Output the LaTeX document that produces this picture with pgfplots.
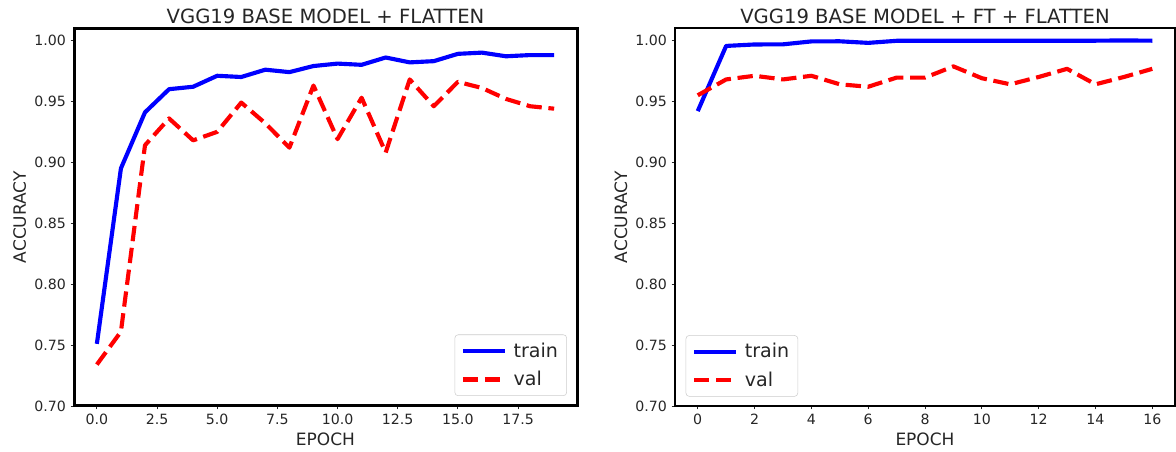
\documentclass[border=0pt]{standalone}
\usepackage{pgfplots}
\pgfplotsset{compat=1.18}
\usepackage{fontspec}
\setmainfont{DejaVu Sans}
\definecolor{txt}{RGB}{38,38,38}
\begin{document}
\begin{tikzpicture}
\path[use as bounding box] (0,0) rectangle (882pt,339pt);
\pgfplotsset{
  common/.style={
    scale only axis, height=283.3pt,
    ymin=0.70, ymax=1.01,
    ytick={0.70,0.75,0.80,0.85,0.90,0.95,1.00},
    yticklabel style={/pgf/number format/.cd, fixed, fixed zerofill, precision=2},
    /pgf/number format/assume math mode=true,
    tick label style={font=\fontsize{10.6}{12}\selectfont, text=txt},
    tick align=outside, xtick pos=left, ytick pos=left,
    major tick length=2.6pt,
    every tick/.style={txt, line width=0.6pt},
    xlabel=EPOCH, ylabel=ACCURACY,
    label style={font=\fontsize{12.75}{14}\selectfont, text=txt},
    xlabel style={at={([yshift=-30pt]axis description cs:0.5,0)}, anchor=base},
    ylabel style={at={([xshift=-36pt]axis description cs:0,0.5)}, anchor=base, rotate=0},
    title style={font=\fontsize{14.7}{16}\selectfont, text=txt, at={([yshift=-2.5pt]axis description cs:0.5,1)}, anchor=base, yshift=0pt},
    legend style={font=\fontsize{14.3}{17}\selectfont, text=txt, draw=black!20, rounded corners=2.5pt, fill=white, fill opacity=0.8, text opacity=1, inner xsep=4.5pt, inner ysep=4pt, row sep=5pt, column sep=3pt},
    legend cell align=left,
    legend image code/.code={\draw[##1] (0pt,0pt) -- (31.5pt,0pt);},
  },
  trainline/.style={blue, line width=3.1pt, line join=round},
  valline/.style={red, line width=3.1pt, dash pattern=on 11.5pt off 5pt, line join=round},
}
\begin{axis}[common, at={(55.5pt,34.5pt)}, anchor=south west, width=377.25pt,
  xmin=-0.95, xmax=19.95,
  xtick={0,2.5,5,7.5,10,12.5,15,17.5},
  xticklabel style={/pgf/number format/.cd, fixed, fixed zerofill, precision=1},
  axis line style={black, line width=2.25pt},
  title={VGG19 BASE MODEL + FLATTEN},
  legend style={at={(0.98,0.0265)}, anchor=south east},
]
\addplot[trainline] coordinates {
(0,0.751)(1,0.895)(2,0.941)(3,0.960)(4,0.962)(5,0.971)(6,0.970)(7,0.976)(8,0.974)(9,0.979)
(10,0.981)(11,0.980)(12,0.986)(13,0.982)(14,0.983)(15,0.989)(16,0.990)(17,0.987)(18,0.988)(19,0.988)};
\addlegendentry{train}
\addplot[valline] coordinates {
(0,0.734)(1,0.761)(2,0.914)(3,0.936)(4,0.918)(5,0.925)(6,0.949)(7,0.932)(8,0.912)(9,0.963)
(10,0.919)(11,0.953)(12,0.908)(13,0.968)(14,0.946)(15,0.966)(16,0.961)(17,0.952)(18,0.946)(19,0.944)};
\addlegendentry{val}
\end{axis}
\begin{axis}[common, at={(506.25pt,34.5pt)}, anchor=south west, width=375pt,
  xmin=-0.8, xmax=16.8,
  xtick={0,2,...,16},
  axis line style={black, line width=1.6pt},
  title={VGG19 BASE MODEL + FT + FLATTEN},
  legend style={at={(0.0214,0.0247)}, anchor=south west},
]
\addplot[trainline] coordinates {
(0,0.942)(1,0.9955)(2,0.9967)(3,0.9968)(4,0.9992)(5,0.9993)(6,0.998)(7,0.9997)(8,0.9998)
(9,0.9998)(10,0.9998)(11,0.9997)(12,0.9998)(13,0.9998)(14,0.9998)(15,1.0)(16,0.9998)};
\addlegendentry{train}
\addplot[valline] coordinates {
(0,0.955)(1,0.968)(2,0.971)(3,0.968)(4,0.971)(5,0.964)(6,0.962)(7,0.9695)(8,0.9695)
(9,0.9787)(10,0.969)(11,0.964)(12,0.970)(13,0.9767)(14,0.964)(15,0.970)(16,0.9767)};
\addlegendentry{val}
\end{axis}
\end{tikzpicture}
\end{document}
